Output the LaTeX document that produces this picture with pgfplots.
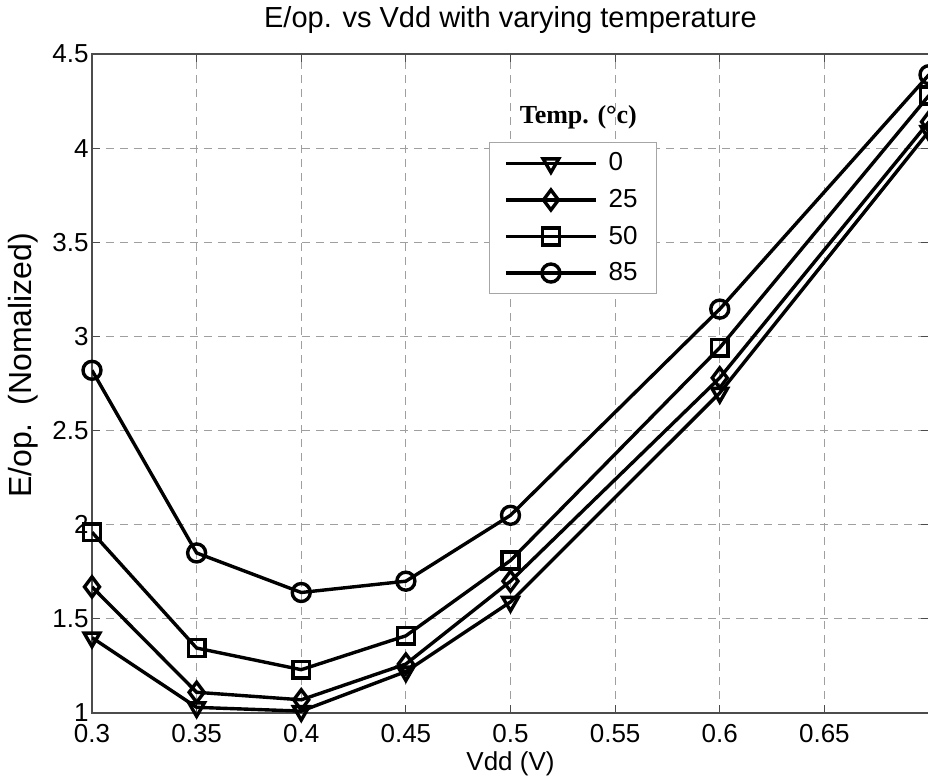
\documentclass[border=0pt]{standalone}
\usepackage{pgfplots}
\pgfplotsset{compat=1.18}
\usepackage{fontspec}
\setmainfont{Liberation Sans}
\newfontfamily\serifb{Liberation Serif}
\usetikzlibrary{plotmarks}
\begin{document}
\begin{tikzpicture}
\begin{axis}[
  name=ax,
  scale only axis,
  width=418.5pt, height=329.5pt,
  xmin=0.3, xmax=0.7, ymin=1, ymax=4.5,
  xtick={0.3,0.35,0.4,0.45,0.5,0.55,0.6,0.65},
  xticklabels={0.3,0.35,0.4,0.45,0.5,0.55,0.6,0.65},
  ytick={1,1.5,2,2.5,3,3.5,4,4.5},
  yticklabels={1,1.5,2,2.5,3,3.5,4,4.5},
  /pgf/number format/assume math mode=true,
  ticklabel style={font=\fontsize{13}{15}\selectfont},
  xticklabel style={yshift=-2pt},
  yticklabel style={inner xsep=1.5pt},
  tick align=inside,
  major tick length=4pt,
  tick style={gray!60!black, line width=0.5pt},
  axis line style={gray!60!black, line width=0.6pt},
  grid=major,
  major grid style={gray!75, line width=0.6pt, dash pattern=on 4pt off 3pt},
  title={E/op. vs Vdd with varying temperature},
  title style={at={(rel axis cs:0.5,1)}, anchor=center, yshift=11pt, font=\fontsize{14.5}{16}\selectfont},
  xlabel={Vdd (V)},
  xlabel style={at={(rel axis cs:0.5,0)}, anchor=center, yshift=-25.5pt, font=\fontsize{13}{16}\selectfont},
  ylabel={E/op.\ \ (Nomalized)},
  ylabel style={at={(rel axis cs:0,0.5)}, anchor=center, yshift=34.5pt, xshift=9pt, font=\fontsize{16}{18}\selectfont},
  every axis plot/.append style={black, line width=1.7pt, mark size=4.5pt, mark options={solid}},
  legend image code/.code={\draw[mark repeat=2,mark phase=2,#1] plot coordinates {(0pt,0pt) (22.5pt,0pt) (45pt,0pt)};},
  legend cell align=left,
  legend style={at={(0.474,0.866)}, anchor=north west, draw=gray!70, line width=0.5pt, fill=white,
    inner xsep=7.5pt, inner ysep=3pt, row sep=3.7pt,
    /tikz/every odd column/.append style={column sep=3.5pt},
    font=\fontsize{13}{15}\selectfont},
]
\addplot[mark=triangle, mark options={rotate=180}] coordinates {
 (0.3,1.40) (0.35,1.03) (0.4,1.01) (0.45,1.22) (0.5,1.59) (0.6,2.70) (0.7,4.09)};
\addlegendentry{0}
\addplot[mark=diamond, mark size=5pt] coordinates {
 (0.3,1.67) (0.35,1.11) (0.4,1.07) (0.45,1.26) (0.5,1.70) (0.6,2.78) (0.7,4.14)};
\addlegendentry{25}
\addplot[mark=square, mark size=4.2pt] coordinates {
 (0.3,1.96) (0.35,1.345) (0.4,1.23) (0.45,1.41) (0.5,1.81) (0.6,2.94) (0.7,4.28)};
\addlegendentry{50}
\addplot[mark=o] coordinates {
 (0.3,2.82) (0.35,1.85) (0.4,1.64) (0.45,1.70) (0.5,2.05) (0.6,3.145) (0.7,4.39)};
\addlegendentry{85}
\node[font=\serifb\bfseries\fontsize{13}{15}\selectfont] at (rel axis cs:0.581,0.904) {Temp. (°c)};
\end{axis}
\pgfresetboundingbox
\path[use as bounding box] ([shift={(-46pt,-34pt)}]ax.south west) rectangle ([shift={(-0.5pt,27pt)}]ax.north east);
\end{tikzpicture}
\end{document}
